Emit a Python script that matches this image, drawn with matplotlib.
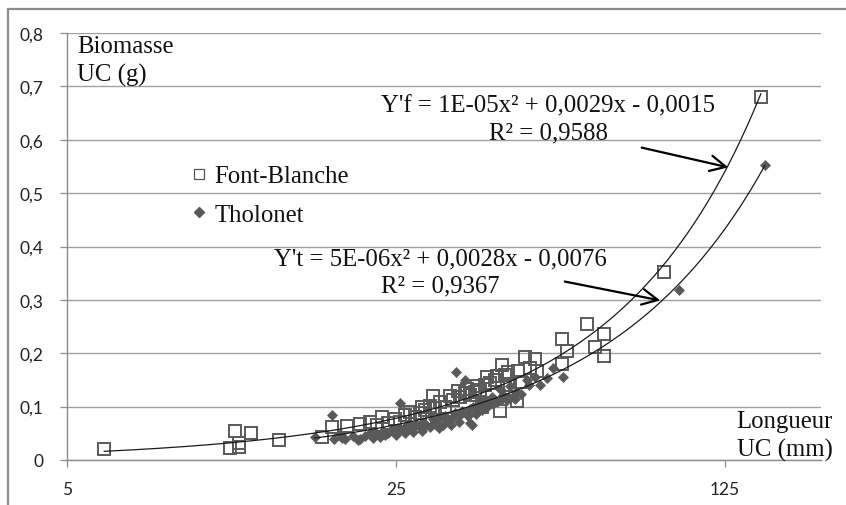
import numpy as np
import matplotlib
matplotlib.use("Agg")
import matplotlib.pyplot as plt
from matplotlib.ticker import FixedLocator, FixedFormatter, NullLocator
from matplotlib.patches import Rectangle, FancyArrowPatch
from matplotlib.lines import Line2D

# ---------------- data ----------------
fb_x = [6.0, 11.1, 11.4, 11.6, 11.6, 12.3, 14.1,
        17.4, 18.3, 19.7, 21.0, 22.0, 22.8, 23.3, 24.0, 24.9, 25.5, 26.1, 26.8,
        27.4, 28.1, 28.4, 28.8, 29.5, 29.9, 30.2, 31.0, 31.8, 32.6, 33.0, 33.8,
        34.2, 35.0, 35.4, 36.0, 36.8, 37.1, 37.7, 38.0, 38.6, 39.0, 39.6, 40.6,
        41.0, 41.6, 42.0, 42.6, 43.2, 43.7, 45.2, 45.4, 45.8, 47.0, 48.2, 49.3,
        49.8, 56.3, 56.3, 57.7, 63.7, 66.2, 69.1, 69.3, 92.8, 149.0]
fb_y = [0.020, 0.022, 0.054, 0.032, 0.024, 0.050, 0.037,
        0.043, 0.062, 0.064, 0.067, 0.071, 0.066, 0.081, 0.070, 0.076, 0.072, 0.085, 0.090,
        0.080, 0.088, 0.099, 0.094, 0.102, 0.120, 0.097, 0.108, 0.100, 0.120, 0.112, 0.129,
        0.118, 0.125, 0.133, 0.122, 0.128, 0.139, 0.132, 0.099, 0.140, 0.155, 0.145, 0.150,
        0.157, 0.092, 0.178, 0.160, 0.165, 0.140, 0.111, 0.167, 0.146, 0.193, 0.172, 0.189,
        0.167, 0.227, 0.180, 0.204, 0.255, 0.212, 0.236, 0.195, 0.352, 0.680]

th_x = [16.8, 18.3, 18.5, 19.0, 19.2, 19.5, 20.3, 20.8, 21.0, 21.5, 22.0, 22.3, 22.6,
        23.1, 23.5, 23.7, 24.0, 24.5, 24.9, 25.0, 25.3, 25.5, 25.8, 26.1, 26.3, 26.8,
        27.0, 27.2, 27.6, 28.1, 28.4, 28.6, 29.0, 29.5, 29.9, 30.0, 30.4, 30.8, 31.0,
        31.5, 31.8, 32.0, 32.3, 32.8, 33.0, 33.4, 33.5, 34.0, 34.2, 34.5, 35.0, 35.3,
        35.5, 35.9, 36.0, 36.3, 36.5, 37.0, 37.3, 37.7, 38.0, 38.3, 38.6, 39.0, 39.3,
        40.0, 40.2, 40.6, 41.0, 41.6, 42.0, 42.3, 43.0, 43.3, 43.7, 44.3, 44.8, 45.0,
        46.0, 47.5, 48.0, 49.3, 50.6, 52.3, 53.9, 56.6, 100.0, 152.0]
th_y = [0.044, 0.084, 0.039, 0.048, 0.042, 0.039, 0.045, 0.037, 0.040, 0.045, 0.050, 0.041, 0.052,
        0.044, 0.054, 0.046, 0.050, 0.058, 0.053, 0.047, 0.060, 0.107, 0.056, 0.050, 0.064, 0.062,
        0.058, 0.052, 0.068, 0.062, 0.055, 0.072, 0.066, 0.062, 0.076, 0.068, 0.070, 0.060, 0.080,
        0.066, 0.082, 0.078, 0.074, 0.066, 0.080, 0.088, 0.165, 0.072, 0.084, 0.092, 0.150, 0.090,
        0.082, 0.096, 0.070, 0.066, 0.100, 0.086, 0.098, 0.110, 0.094, 0.104, 0.114, 0.100, 0.108,
        0.118, 0.104, 0.112, 0.108, 0.133, 0.115, 0.122, 0.112, 0.118, 0.139, 0.118, 0.114, 0.128,
        0.124, 0.150, 0.140, 0.155, 0.140, 0.154, 0.172, 0.155, 0.318, 0.553]

# trend-line coefficients (a x^2 + b x + c), tuned to the drawn curves
fb_coef = [1.15e-5, 0.0029, -0.0015]
th_coef = [5.8e-6, 0.0028, -0.0076]

series_names = ["Font-Blanche", "Tholonet"]
x_ticks = [5, 25, 125]
x_tick_labels = ["5", "25", "125"]
y_ticks = [0.0, 0.1, 0.2, 0.3, 0.4, 0.5, 0.6, 0.7, 0.8]
y_tick_labels = ["0", "0,1", "0,2", "0,3", "0,4", "0,5", "0,6", "0,7", "0,8"]
fb_eq = "Y'f = 1E-05x² + 0,0029x - 0,0015\nR² = 0,9588"
th_eq = "Y't = 5E-06x² + 0,0028x - 0,0076\nR² = 0,9367"
y_title = "Biomasse\nUC (g)"
x_title = "Longueur\nUC (mm)"

# ---------------- figure ----------------
W, H = 846, 506
fig = plt.figure(figsize=(W / 100, H / 100), dpi=100)
fig.patch.set_facecolor("white")


def fpx(x, y):
    return (x / W, 1 - y / H)


# outer frame (chart border, cut at right/bottom)
fig.add_artist(Rectangle(fpx(8, 560), (W + 40) / W, (560 - 10) / H,
                         transform=fig.transFigure, fill=False,
                         edgecolor="#8c8c8c", lw=1.6))

ax = fig.add_axes([67 / W, 1 - 461 / H, (821 - 67) / W, (461 - 34) / H])
ax.set_xscale("log", base=5)
ax.set_xlim(5, 200)
ax.set_ylim(0, 0.8)

grid_c = "#a0a0a0"
for s in ["top", "right"]:
    ax.spines[s].set_visible(False)
ax.spines["left"].set_color("#8c8c8c")
ax.spines["bottom"].set_color("#8c8c8c")
ax.spines["left"].set_linewidth(1.0)
ax.spines["bottom"].set_linewidth(1.0)

ax.xaxis.set_major_locator(FixedLocator(x_ticks))
ax.xaxis.set_major_formatter(FixedFormatter(x_tick_labels))
ax.xaxis.set_minor_locator(NullLocator())
ax.yaxis.set_major_locator(FixedLocator(y_ticks))
ax.yaxis.set_major_formatter(FixedFormatter(y_tick_labels))

for lab in ax.get_xticklabels() + ax.get_yticklabels():
    lab.set_fontfamily(["Lato", "DejaVu Sans"])
    lab.set_fontsize(12.5)
    lab.set_color("#222222")
ax.tick_params(axis="y", length=5, width=0.9, color="#8c8c8c", pad=12)
ax.tick_params(axis="x", length=5, width=0.9, color="#8c8c8c", pad=10)
ax.yaxis.grid(True, color=grid_c, lw=1.0)
ax.set_axisbelow(True)

mk_c = "#595959"
ax.plot(fb_x, fb_y, linestyle="none", marker="s", markersize=8,
        markerfacecolor="none", markeredgecolor=mk_c, markeredgewidth=1.4, zorder=3)
ax.plot(th_x, th_y, linestyle="none", marker="D", markersize=5.6,
        markerfacecolor=mk_c, markeredgecolor=mk_c, markeredgewidth=0.5, zorder=4)

xf = np.geomspace(min(fb_x), max(fb_x), 300)
ax.plot(xf, np.polyval(fb_coef, xf), color="#1a1a1a", lw=0.9, zorder=5)
xt = np.geomspace(min(th_x), max(th_x), 300)
ax.plot(xt, np.polyval(th_coef, xt), color="#1a1a1a", lw=0.9, zorder=5)

serif = ["Liberation Serif", "DejaVu Serif"]
fs = 17.8
ls = 1.33

# axis titles
fig.text(*fpx(77, 36), y_title, family=serif, fontsize=fs, ha="left", va="top",
         linespacing=ls, color="#111111")
fig.text(*fpx(833, 462), x_title, family=serif, fontsize=fs, ha="right", va="bottom",
         linespacing=ls, color="#111111")

# equations
fig.text(*fpx(548, 120), fb_eq, family=serif, fontsize=fs, ha="center", va="center",
         linespacing=ls, color="#111111")
fig.text(*fpx(440, 273), th_eq, family=serif, fontsize=fs, ha="center", va="center",
         linespacing=ls, color="#111111")

# arrows
for a, b in [((639, 148), (731, 169)), ((562, 282), (663, 302))]:
    fig.add_artist(FancyArrowPatch(
        fpx(*a), fpx(*b), transform=fig.transFigure,
        arrowstyle="->,head_length=7,head_width=3.5", lw=1.6, color="black",
        mutation_scale=1.6))

# legend
handles = [
    Line2D([], [], linestyle="none", marker="s", markersize=7.5,
           markerfacecolor="white", markeredgecolor="#555555", markeredgewidth=0.9),
    Line2D([], [], linestyle="none", marker="D", markersize=5.2,
           markerfacecolor=mk_c, markeredgecolor=mk_c),
]
leg = ax.legend(handles, series_names, loc="upper left",
                bbox_to_anchor=fpx(190, 166), bbox_transform=fig.transFigure,
                frameon=False, handlelength=0.7, handletextpad=0.3,
                labelspacing=0.65, borderpad=0.0, borderaxespad=0.0,
                prop={"family": serif, "size": fs})
for t in leg.get_texts():
    t.set_color("#111111")

fig.savefig("out.png", dpi=100, facecolor="white")
